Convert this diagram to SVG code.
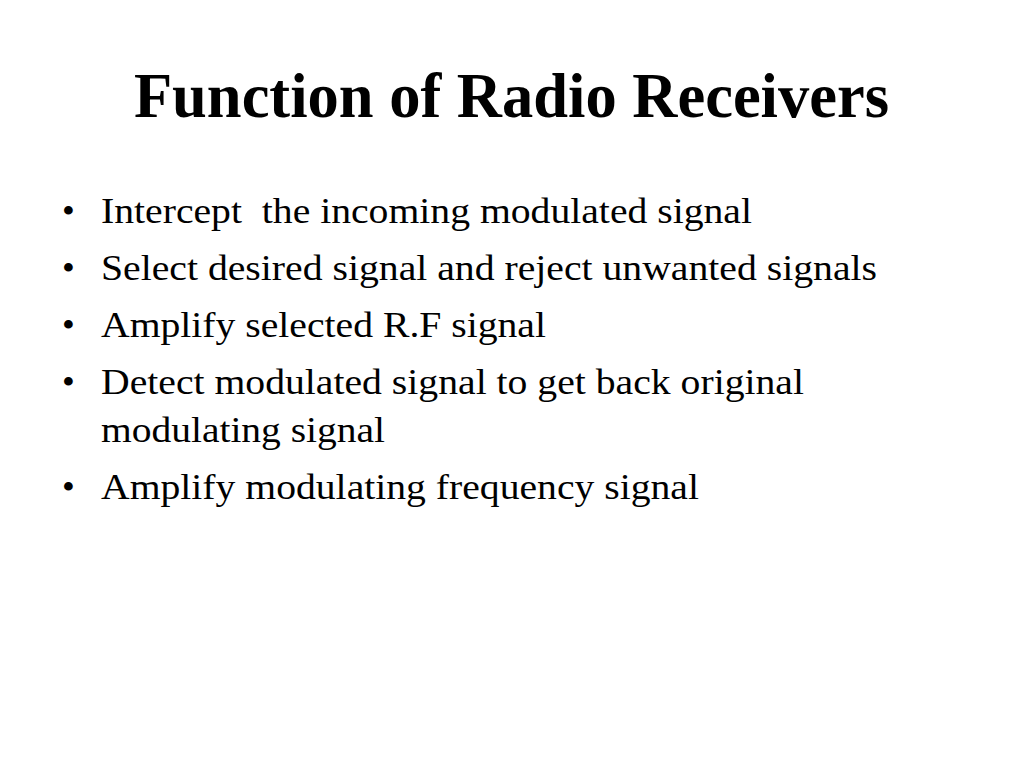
<svg xmlns="http://www.w3.org/2000/svg" width="1024" height="768" viewBox="0 0 1024 768">
<style>
.t{font-family:"Liberation Serif","Times New Roman",serif;fill:#000}
.h{font-size:62.5px;font-weight:bold}
.b{font-size:36.5px}
</style>
<rect width="1024" height="768" fill="#fff"/>
<g id="title"><text class="t h" x="511.5" y="117" text-anchor="middle">Function of Radio Receivers</text></g>
<g id="bullets">
<text class="t b" x="62" y="223">•</text><text class="t b" x="101" y="223" xml:space="preserve" textLength="651" lengthAdjust="spacingAndGlyphs">Intercept  the incoming modulated signal</text>
<text class="t b" x="62" y="280">•</text><text class="t b" x="101" y="280" textLength="776" lengthAdjust="spacingAndGlyphs">Select desired signal and reject unwanted signals</text>
<text class="t b" x="62" y="337">•</text><text class="t b" x="101" y="337" textLength="445" lengthAdjust="spacingAndGlyphs">Amplify selected R.F signal</text>
<text class="t b" x="62" y="394">•</text><text class="t b" x="101" y="394" textLength="703" lengthAdjust="spacingAndGlyphs">Detect modulated signal to get back original</text>
<text class="t b" x="101" y="442" textLength="284" lengthAdjust="spacingAndGlyphs">modulating signal</text>
<text class="t b" x="62" y="499">•</text><text class="t b" x="101" y="499" textLength="598" lengthAdjust="spacingAndGlyphs">Amplify modulating frequency signal</text>
</g>
</svg>
